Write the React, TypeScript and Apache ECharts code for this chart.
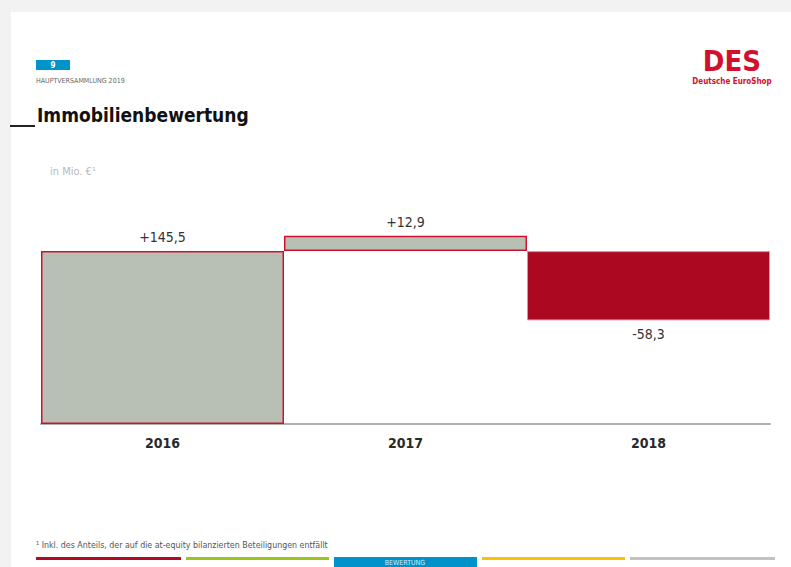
import React, { useEffect, useRef } from "react";
import * as echarts from "echarts";

const categories = ["2016", "2017", "2018"];
const changes = [145.5, 12.9, -58.3];
const title = "Immobilienbewertung";
const unitLabel = "in Mio. €¹";
const footnote = "¹ Inkl. des Anteils, der auf die at-equity bilanzierten Beteiligungen entfällt";
const sectionLabel = "BEWERTUNG";
const meetingLabel = "HAUPTVERSAMMLUNG 2019";
const pageNumber = "9";

const RED = "#ad0822";
const GRAY_BAR = "#b8c0b5";
const OUTLINE = "#d0102e";
const FONT = "'DejaVu Sans Condensed', 'DejaVu Sans', sans-serif";

function fmt(v: number): string {
  const s = Math.abs(v).toFixed(1).replace(".", ",");
  return (v >= 0 ? "+" : "-") + s;
}

export default function App() {
  const ref = useRef<HTMLDivElement>(null);
  useEffect(() => {
    if (!ref.current) return;
    const chart = echarts.init(ref.current, undefined, { renderer: "svg" });
    const baseLevel = changes[0];
    const bases = changes.map((v, i) => (i === 0 ? 0 : baseLevel + Math.min(0, v)));
    const heights = changes.map((v) => Math.abs(v));

    const strips = [
      { x: 36, w: 145, c: "#b20c25" },
      { x: 186, w: 143, c: "#9dc41a" },
      { x: 482, w: 143, c: "#ffc000" },
      { x: 630, w: 145, c: "#c0c4bd" },
    ];

    chart.setOption({
      animation: false,
      grid: { left: 41, right: 21, top: 222, bottom: 143 },
      xAxis: {
        type: "category",
        data: categories,
        axisLine: { lineStyle: { color: "#b0b0b0", width: 2 } },
        axisTick: { show: false },
        axisLabel: { color: "#2a2a2a", fontSize: 14, fontWeight: "bold", fontFamily: FONT, margin: 12 },
      },
      yAxis: { type: "value", min: 0, max: 170, show: false, splitLine: { show: false } },
      series: [
        {
          type: "bar",
          stack: "w",
          data: bases,
          itemStyle: { color: "transparent" },
          barCategoryGap: 0,
          silent: true,
        },
        {
          type: "bar",
          stack: "w",
          barCategoryGap: 0,
          data: heights.map((h, i) => {
            const neg = changes[i] < 0;
            return {
              value: h,
              itemStyle: neg
                ? { color: RED, borderColor: "#e88c9a", borderWidth: 1 }
                : { color: GRAY_BAR, borderColor: OUTLINE, borderWidth: 1.5 },
              label: {
                show: true,
                position: neg ? "bottom" : "top",
                distance: 7,
                formatter: fmt(changes[i]),
                color: "#333",
                fontSize: 14,
                fontFamily: FONT,
              },
            };
          }),
        },
      ],
      graphic: [
        { type: "rect", z: -10, shape: { x: 0, y: 0, width: 791, height: 567 }, style: { fill: "#f2f2f2" } },
        { type: "rect", z: -9, shape: { x: 11, y: 12, width: 780, height: 555 }, style: { fill: "#ffffff" } },
        { type: "rect", shape: { x: 36, y: 60, width: 34, height: 10 }, style: { fill: "#0093c9" } },
        {
          type: "text",
          x: 53,
          y: 65,
          style: { text: pageNumber, fill: "#fff", fontSize: 8, fontWeight: "bold", fontFamily: FONT, align: "center", verticalAlign: "middle" },
        },
        {
          type: "text",
          x: 36,
          y: 81,
          style: { text: meetingLabel, fill: "#666", fontSize: 7, fontFamily: FONT, verticalAlign: "middle" },
        },
        {
          type: "text",
          x: 37,
          y: 115,
          style: { text: title, fill: "#111", fontSize: 19, fontWeight: "bold", fontFamily: FONT, verticalAlign: "middle" },
        },
        { type: "rect", shape: { x: 10, y: 125, width: 25, height: 2 }, style: { fill: "#222" } },
        {
          type: "text",
          x: 50,
          y: 171,
          style: { text: unitLabel, fill: "#b8b8b8", fontSize: 11, fontFamily: FONT, verticalAlign: "middle" },
        },
        {
          type: "text",
          x: 732,
          y: 61,
          style: { text: "DES", fill: OUTLINE, fontSize: 29, fontWeight: "bold", fontFamily: FONT, align: "center", verticalAlign: "middle" },
        },
        {
          type: "text",
          x: 732,
          y: 81,
          style: { text: "Deutsche EuroShop", fill: OUTLINE, fontSize: 8, fontWeight: "bold", fontFamily: FONT, align: "center", verticalAlign: "middle" },
        },
        {
          type: "text",
          x: 36,
          y: 545,
          style: { text: footnote, fill: "#555", fontSize: 8.8, fontFamily: FONT, verticalAlign: "middle" },
        },
        ...strips.map((s) => ({ type: "rect", shape: { x: s.x, y: 557, width: s.w, height: 3 }, style: { fill: s.c } })),
        { type: "rect", shape: { x: 334, y: 557, width: 143, height: 10 }, style: { fill: "#0093c9" } },
        {
          type: "text",
          x: 405,
          y: 563,
          style: { text: sectionLabel, fill: "#cfe9f5", fontSize: 7, fontFamily: FONT, align: "center", verticalAlign: "middle" },
        },
      ],
    });
    return () => chart.dispose();
  }, []);
  return (
    <div
      ref={ref}
      style={{ position: "fixed", left: 0, top: 0, width: 791, height: 567, background: "#fff" }}
    />
  );
}
